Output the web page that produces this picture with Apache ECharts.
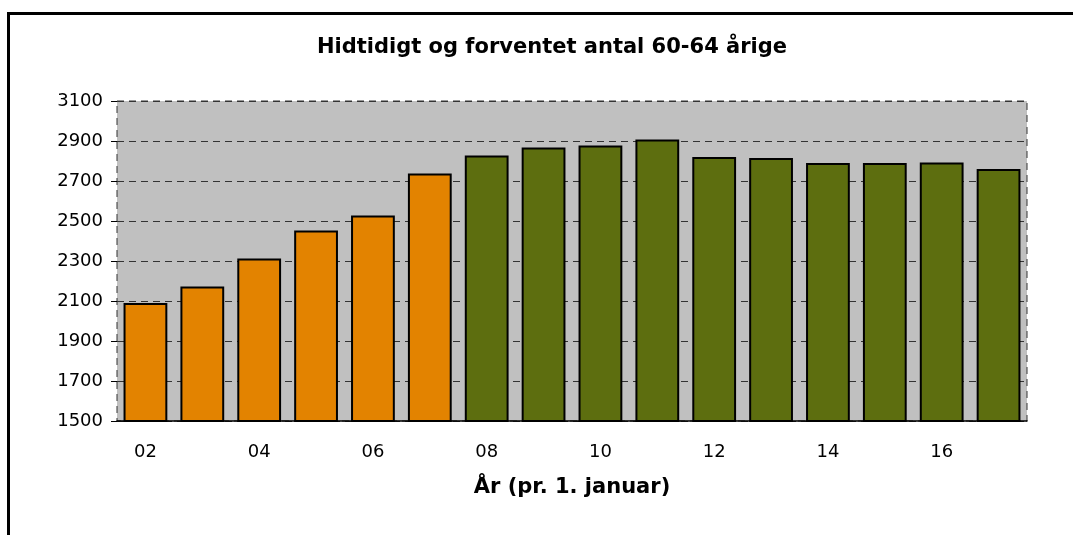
<!DOCTYPE html>
<html>
<head>
<meta charset="utf-8">
<script src="https://cdn.jsdelivr.net/npm/echarts@6/dist/echarts.min.js"></script>
<style>
  html, body { margin: 0; padding: 0; background: #fff; }
  #chart { width: 1073px; height: 535px; }
</style>
</head>
<body>
<div id="chart"></div>
<script>
const years = ["02", "03", "04", "05", "06", "07", "08", "09", "10", "11", "12", "13", "14", "15", "16", "17"];
const counts = [2090, 2172, 2312, 2452, 2527, 2738, 2828, 2867, 2878, 2908, 2820, 2815, 2790, 2790, 2793, 2760];
// first forecast year (bars from here on are green)
const firstForecast = "08";
const yTicks = { min: 1500, max: 3100, step: 200 };

const chart = echarts.init(document.getElementById("chart"));
const font = "'DejaVu Sans', 'Liberation Sans', sans-serif";
const forecastIdx = years.indexOf(firstForecast);

chart.setOption({
  animation: false,
  backgroundColor: "#ffffff",
  title: {
    text: "Hidtidigt og forventet antal 60-64 årige",
    left: 547,
    top: 32,
    textAlign: "center",
    textStyle: { fontFamily: font, fontSize: 21, fontWeight: "bold", color: "#000" }
  },
  graphic: [
    {
      type: "rect",
      shape: { x: 8.5, y: 13.5, width: 1100, height: 560 },
      style: { fill: null, stroke: "#000", lineWidth: 3 },
      silent: true
    }
  ],
  grid: {
    left: 117,
    right: 46,
    top: 101,
    bottom: 114,
    show: true,
    backgroundColor: "#c0c0c0",
    borderColor: "#333",
    borderWidth: 1,
    borderType: [7, 5]
  },
  xAxis: {
    type: "category",
    data: years,
    boundaryGap: true,
    axisLine: { lineStyle: { color: "#000", width: 1.5 } },
    axisTick: { interval: 1, length: 6, lineStyle: { color: "#000" } },
    axisLabel: { interval: 1, margin: 22, fontFamily: font, fontSize: 18, color: "#000" },
    name: "År (pr. 1. januar)",
    nameLocation: "middle",
    nameGap: 56,
    nameTextStyle: { fontFamily: font, fontSize: 21, fontWeight: "bold", color: "#000" }
  },
  yAxis: {
    type: "value",
    min: yTicks.min,
    max: yTicks.max,
    interval: yTicks.step,
    axisLine: { show: false },
    axisTick: { show: true, length: 6, lineStyle: { color: "#000" } },
    axisLabel: { margin: 14, fontFamily: font, fontSize: 18, color: "#000", formatter: (v) => String(v) },
    splitLine: { lineStyle: { color: "#333", width: 1, type: [7, 5] } }
  },
  series: [
    {
      type: "bar",
      barCategoryGap: "23%",
      data: counts.map((v, i) => ({
        value: v,
        itemStyle: { color: i < forecastIdx ? "#e38300" : "#5d6e0f" }
      })),
      itemStyle: { borderColor: "#000", borderWidth: 2 }
    }
  ]
});
</script>
</body>
</html>
